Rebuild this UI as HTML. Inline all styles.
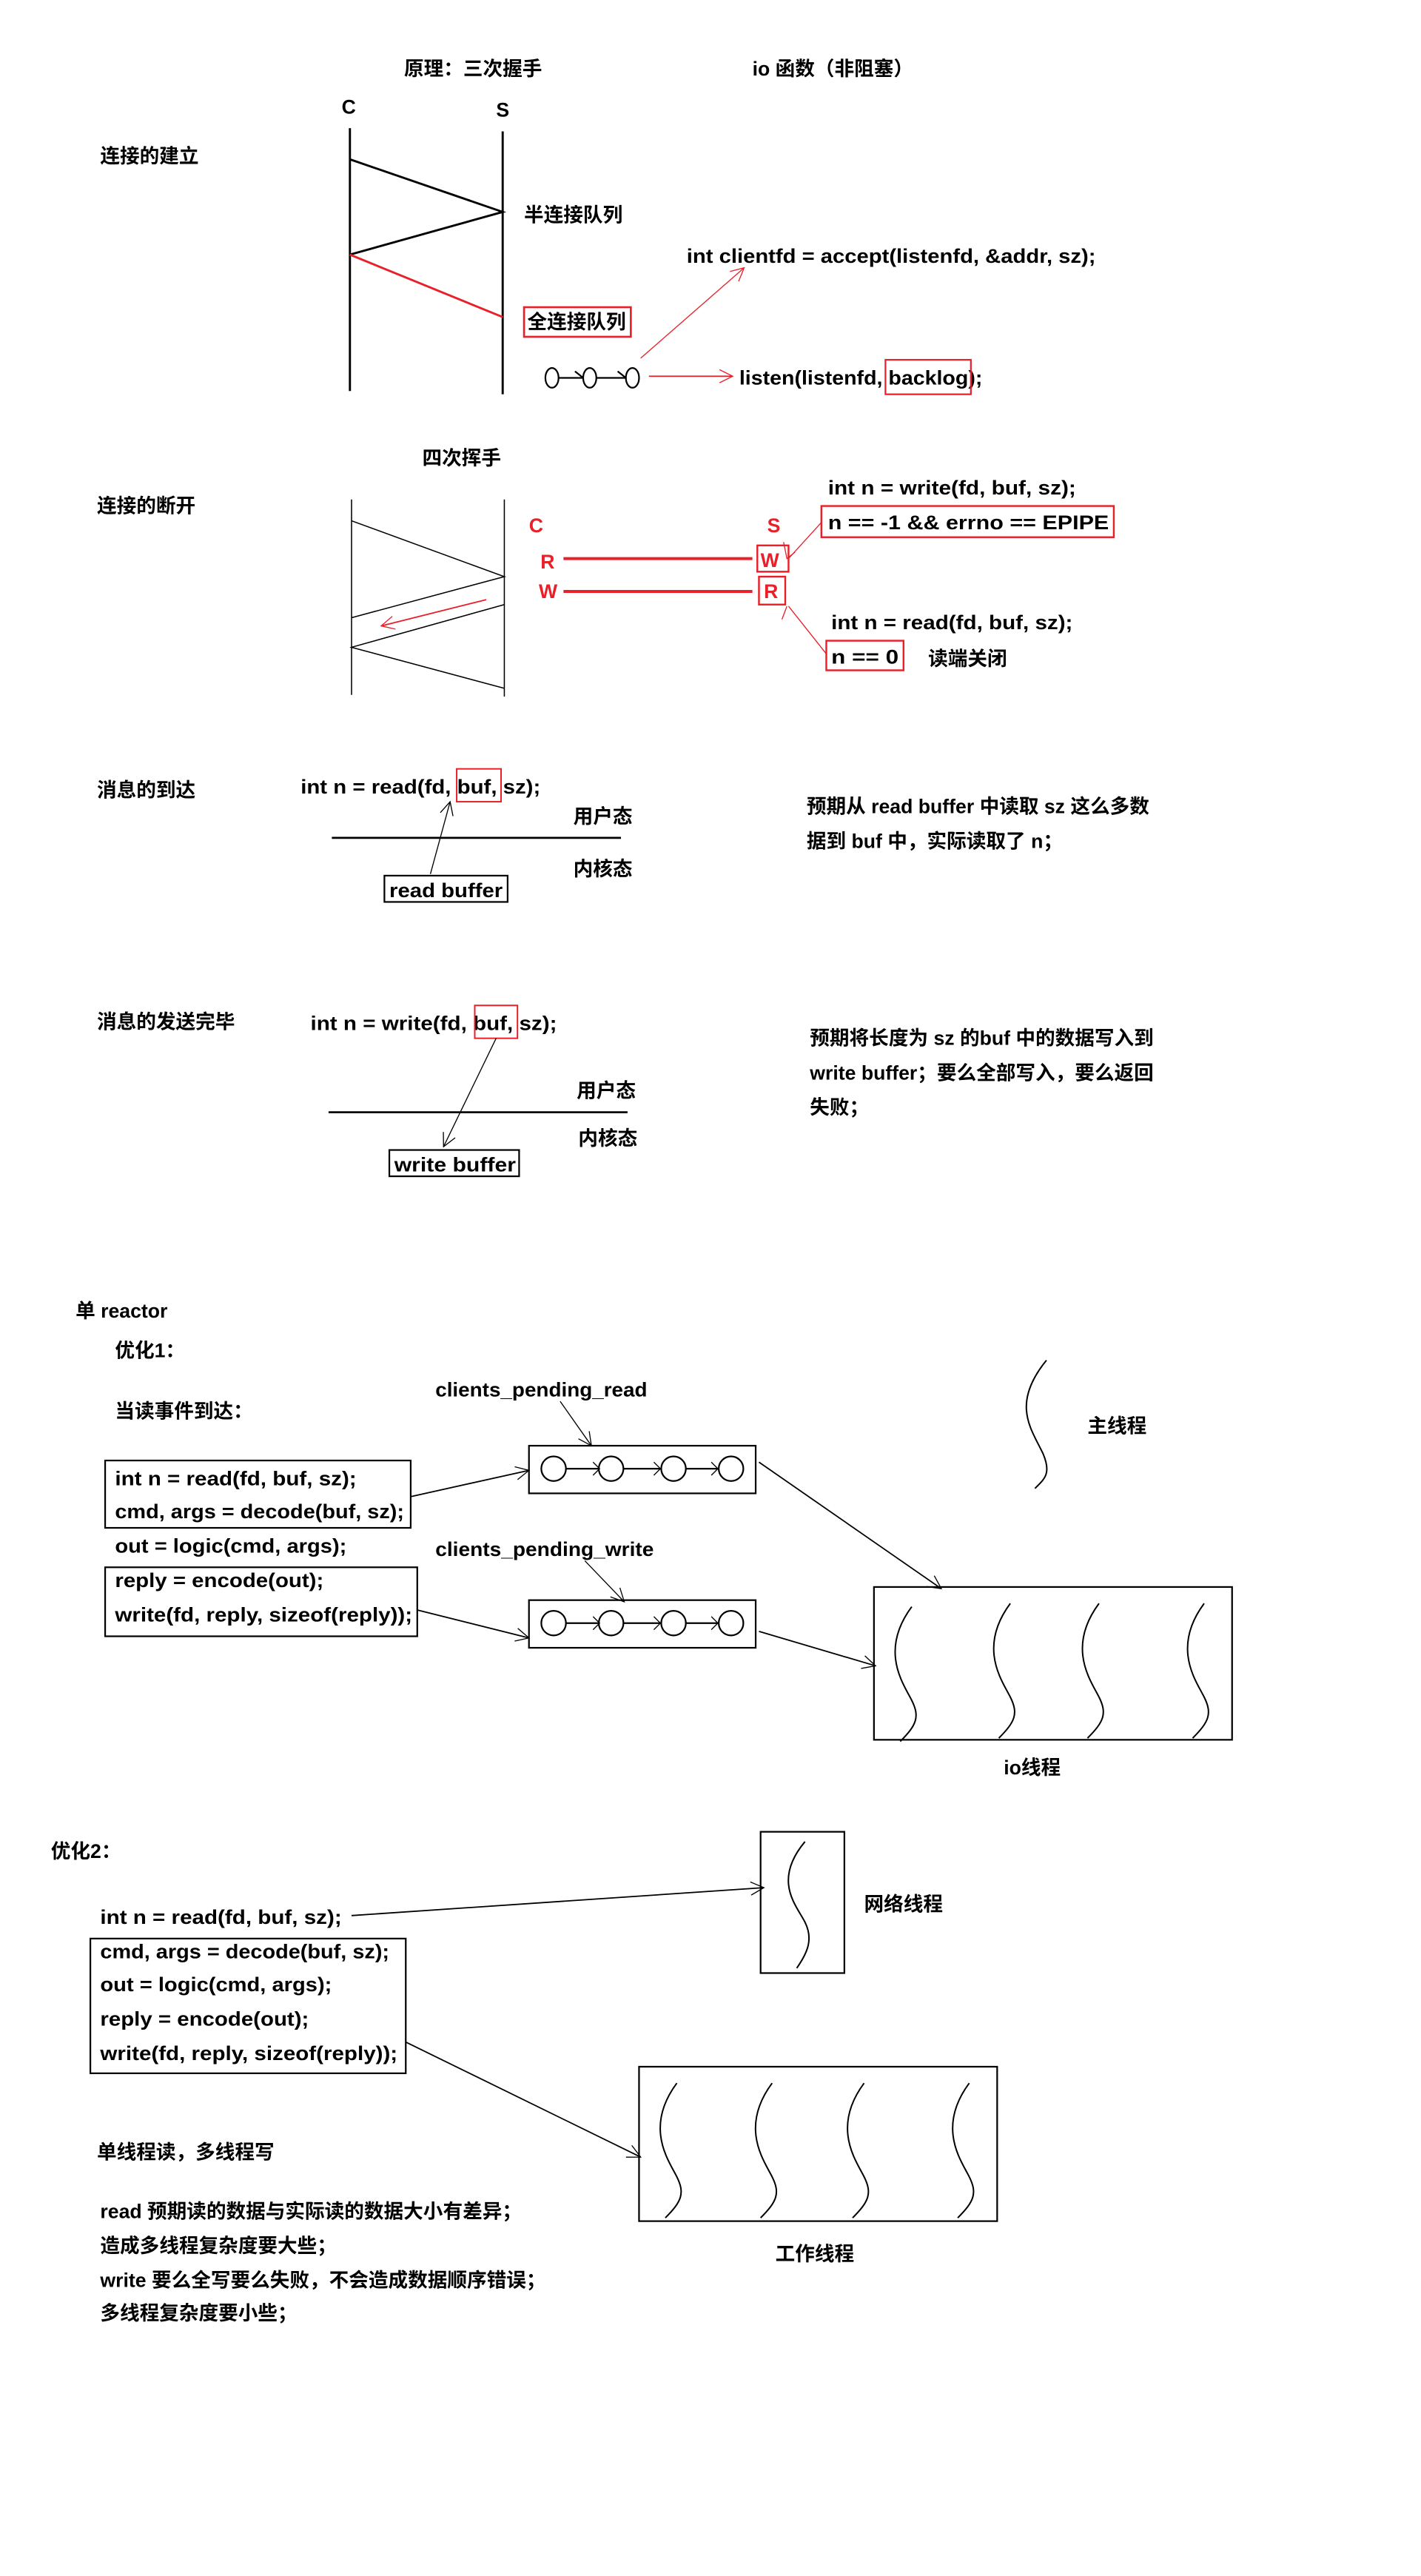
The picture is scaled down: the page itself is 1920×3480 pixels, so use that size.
<!DOCTYPE html>
<html><head><meta charset="utf-8"><style>
html,body{margin:0;padding:0;background:#fff;}
svg{display:block;}
text{font-family:"Liberation Sans","Noto Sans CJK SC",sans-serif;font-weight:bold;font-size:12px;fill:#000;dominant-baseline:central;}
.r{fill:#e8202a;}
</style></head><body>
<svg width="1920" height="3480" viewBox="0 0 865 1568" preserveAspectRatio="none" xmlns="http://www.w3.org/2000/svg">
<defs>
<marker id="ab" markerWidth="10" markerHeight="10" refX="9" refY="5" orient="auto" markerUnits="userSpaceOnUse"><path d="M1,1 L9,5 L1,9" fill="none" stroke="#000" stroke-width="0.6"/></marker>
<marker id="ar" markerWidth="10" markerHeight="10" refX="9" refY="5" orient="auto" markerUnits="userSpaceOnUse"><path d="M1,1 L9,5 L1,9" fill="none" stroke="#e8202a" stroke-width="0.6"/></marker>
</defs>
<rect width="865" height="1568" fill="#fff"/>

<text x="246" y="42">原理：三次握手</text>
<text x="458" y="42">io 函数（非阻塞）</text>
<text x="208" y="65">C</text>
<text x="302" y="67">S</text>
<text x="61" y="95">连接的建立</text>
<g stroke="#000" stroke-width="1.3" fill="none">
<line x1="213" y1="78" x2="213" y2="238"/>
<line x1="306" y1="80" x2="306" y2="240"/>
<polyline points="213,97 306,129 213,155"/>
</g>
<line x1="213" y1="155" x2="306" y2="193" stroke="#e8202a" stroke-width="1.3"/>
<text x="319" y="131">半连接队列</text>
<text x="418" y="156" textLength="249" lengthAdjust="spacingAndGlyphs">int clientfd = accept(listenfd, &amp;addr, sz);</text>
<rect x="319" y="187" width="65" height="18" fill="none" stroke="#e8202a" stroke-width="1.2"/>
<text x="321" y="196">全连接队列</text>
<line x1="390" y1="218" x2="453" y2="163" stroke="#e8202a" stroke-width="0.6" marker-end="url(#ar)"/>
<g stroke="#000" stroke-width="1" fill="none">
<ellipse cx="336" cy="230" rx="4" ry="6"/>
<ellipse cx="359" cy="230" rx="4" ry="6"/>
<ellipse cx="385" cy="230" rx="4" ry="6"/>
<line x1="340" y1="230" x2="355" y2="230"/>
<line x1="363" y1="230" x2="381" y2="230"/>
<polyline points="350,226 355,230"/><polyline points="376,226 381,230"/>
</g>
<line x1="395" y1="229" x2="446" y2="229" stroke="#e8202a" stroke-width="0.8" marker-end="url(#ar)"/>
<text x="450" y="230" textLength="148" lengthAdjust="spacingAndGlyphs">listen(listenfd, backlog);</text>
<rect x="539" y="219" width="52" height="21" fill="none" stroke="#e8202a" stroke-width="1"/>

<text x="257" y="279">四次挥手</text>
<text x="59" y="308">连接的断开</text>
<g stroke="#000" stroke-width="0.7" fill="none">
<line x1="214" y1="304" x2="214" y2="423"/>
<line x1="307" y1="304" x2="307" y2="424"/>
<polyline points="214,317 307,351 214,376"/>
<polyline points="307,368 214,394 307,419"/>
</g>
<line x1="296" y1="365" x2="232" y2="381" stroke="#e8202a" stroke-width="0.8" marker-end="url(#ar)"/>
<text class="r" x="322" y="320">C</text>
<text class="r" x="329" y="342">R</text>
<text class="r" x="328" y="360">W</text>
<text class="r" x="467" y="320">S</text>
<g stroke="#e8202a" stroke-width="1.8">
<line x1="343" y1="340" x2="458" y2="340"/>
<line x1="343" y1="360" x2="458" y2="360"/>
</g>
<g fill="none" stroke="#e8202a" stroke-width="1.1">
<rect x="461" y="332" width="19" height="16"/>
<rect x="462" y="351" width="16" height="17"/>
<rect x="500" y="308" width="178" height="19"/>
<rect x="503" y="390" width="47" height="18"/>
</g>
<text class="r" x="463" y="341">W</text>
<text class="r" x="465" y="360">R</text>
<line x1="500" y1="318" x2="480" y2="340" stroke="#e8202a" stroke-width="0.6"/>
<polyline points="477,330 479,340 484,336" fill="none" stroke="#e8202a" stroke-width="0.6"/>
<line x1="503" y1="398" x2="480" y2="369" stroke="#e8202a" stroke-width="0.6"/>
<polyline points="476,377 479,369" fill="none" stroke="#e8202a" stroke-width="0.6"/>
<text x="504" y="297" textLength="151" lengthAdjust="spacingAndGlyphs">int n = write(fd, buf, sz);</text>
<text x="504" y="318" textLength="171" lengthAdjust="spacingAndGlyphs">n == -1 &amp;&amp; errno == EPIPE</text>
<text x="506" y="379" textLength="147" lengthAdjust="spacingAndGlyphs">int n = read(fd, buf, sz);</text>
<text x="506" y="400" textLength="41" lengthAdjust="spacingAndGlyphs">n == 0</text>
<text x="565" y="401">读端关闭</text>

<text x="59" y="481">消息的到达</text>
<text x="183" y="479" textLength="146" lengthAdjust="spacingAndGlyphs">int n = read(fd, buf, sz);</text>
<rect x="278" y="468" width="27" height="20" fill="none" stroke="#e8202a" stroke-width="0.9"/>
<text x="349" y="497">用户态</text>
<line x1="202" y1="510" x2="378" y2="510" stroke="#000" stroke-width="1.2"/>
<text x="349" y="529">内核态</text>
<line x1="262" y1="532" x2="274" y2="488" stroke="#000" stroke-width="0.6" marker-end="url(#ab)"/>
<rect x="234" y="533" width="75" height="16" fill="none" stroke="#000" stroke-width="1"/>
<text x="237" y="542" textLength="69" lengthAdjust="spacingAndGlyphs">read buffer</text>
<text x="491" y="491">预期从 read buffer 中读取 sz 这么多数</text>
<text x="491" y="512">据到 buf 中，实际读取了 n；</text>

<text x="59" y="622">消息的发送完毕</text>
<text x="189" y="623" textLength="150" lengthAdjust="spacingAndGlyphs">int n = write(fd, buf, sz);</text>
<rect x="289" y="612" width="26" height="20" fill="none" stroke="#e8202a" stroke-width="0.9"/>
<text x="351" y="664">用户态</text>
<line x1="200" y1="677" x2="382" y2="677" stroke="#000" stroke-width="1.2"/>
<text x="352" y="693">内核态</text>
<line x1="302" y1="632" x2="270" y2="698" stroke="#000" stroke-width="0.6" marker-end="url(#ab)"/>
<rect x="237" y="700" width="79" height="16" fill="none" stroke="#000" stroke-width="1"/>
<text x="240" y="709" textLength="74" lengthAdjust="spacingAndGlyphs">write buffer</text>
<text x="493" y="632">预期将长度为 sz 的buf 中的数据写入到</text>
<text x="493" y="653">write buffer；要么全部写入，要么返回</text>
<text x="493" y="674">失败；</text>

<text x="46" y="798">单 reactor</text>
<text x="70" y="822">优化1：</text>
<text x="70" y="859">当读事件到达：</text>
<text x="265" y="846" textLength="129" lengthAdjust="spacingAndGlyphs">clients_pending_read</text>
<line x1="341" y1="853" x2="360" y2="880" stroke="#000" stroke-width="0.6" marker-end="url(#ab)"/>
<text x="265" y="943" textLength="133" lengthAdjust="spacingAndGlyphs">clients_pending_write</text>
<line x1="356" y1="950" x2="380" y2="975" stroke="#000" stroke-width="0.6" marker-end="url(#ab)"/>
<g stroke="#000" fill="none" stroke-width="1">
<rect x="322" y="880" width="138" height="29"/>
<rect x="322" y="974" width="138" height="29"/>
<circle cx="337" cy="894" r="7.5"/><circle cx="372" cy="894" r="7.5"/><circle cx="410" cy="894" r="7.5"/><circle cx="445" cy="894" r="7.5"/>
<circle cx="337" cy="988" r="7.5"/><circle cx="372" cy="988" r="7.5"/><circle cx="410" cy="988" r="7.5"/><circle cx="445" cy="988" r="7.5"/>
<line x1="344.5" y1="894" x2="364.5" y2="894"/><line x1="379.5" y1="894" x2="402.5" y2="894"/><line x1="417.5" y1="894" x2="437.5" y2="894"/>
<line x1="344.5" y1="988" x2="364.5" y2="988"/><line x1="379.5" y1="988" x2="402.5" y2="988"/><line x1="417.5" y1="988" x2="437.5" y2="988"/>
<rect x="64" y="889" width="186" height="41"/>
<rect x="64" y="954" width="190" height="42"/>
<rect x="532" y="966" width="218" height="93"/>
<rect x="463" y="1115" width="51" height="86"/>
<rect x="55" y="1180" width="192" height="82"/>
<rect x="389" y="1258" width="218" height="94"/>
</g>
<g stroke="#000" stroke-width="0.6" fill="none">
<polyline points="361,890 365,894 361,898"/><polyline points="398,890 402,894 398,898"/><polyline points="433,890 437,894 433,898"/>
<polyline points="361,984 365,988 361,992"/><polyline points="398,984 402,988 398,992"/><polyline points="433,984 437,988 433,992"/>
</g>
<text x="70" y="900" textLength="147" lengthAdjust="spacingAndGlyphs">int n = read(fd, buf, sz);</text>
<text x="70" y="920" textLength="176" lengthAdjust="spacingAndGlyphs">cmd, args = decode(buf, sz);</text>
<text x="70" y="941" textLength="141" lengthAdjust="spacingAndGlyphs">out = logic(cmd, args);</text>
<text x="70" y="962" textLength="127" lengthAdjust="spacingAndGlyphs">reply = encode(out);</text>
<text x="70" y="983" textLength="181" lengthAdjust="spacingAndGlyphs">write(fd, reply, sizeof(reply));</text>
<g stroke="#000" stroke-width="0.8" fill="none">
<line x1="250" y1="911" x2="322" y2="895" marker-end="url(#ab)"/>
<line x1="254" y1="980" x2="322" y2="997" marker-end="url(#ab)"/>
<line x1="462" y1="890" x2="573" y2="967" marker-end="url(#ab)"/>
<line x1="462" y1="993" x2="533" y2="1014" marker-end="url(#ab)"/>
<line x1="214" y1="1166" x2="465" y2="1149" marker-end="url(#ab)"/>
<line x1="247" y1="1243" x2="390" y2="1313" marker-end="url(#ab)"/>
</g>
<g stroke="#000" stroke-width="0.9" fill="none">
<path d="M637,828 C615,855 628,870 635,885 C640,897 636,900 630,906"/>
<path d="M555,978 C535,1005 550,1025 555,1035 C560,1045 558,1050 548,1060"/>
<path d="M615,976 C595,1003 610,1023 615,1033 C620,1043 618,1048 608,1058"/>
<path d="M669,976 C649,1003 664,1023 669,1033 C674,1043 672,1048 662,1058"/>
<path d="M733,976 C713,1003 728,1023 733,1033 C738,1043 736,1048 726,1058"/>
<path d="M490,1121 C470,1145 485,1160 490,1170 C495,1180 492,1188 485,1198"/>
<path d="M412,1268 C392,1295 407,1315 412,1325 C417,1335 415,1340 405,1350"/>
<path d="M470,1268 C450,1295 465,1315 470,1325 C475,1335 473,1340 463,1350"/>
<path d="M526,1268 C506,1295 521,1315 526,1325 C531,1335 529,1340 519,1350"/>
<path d="M590,1268 C570,1295 585,1315 590,1325 C595,1335 593,1340 583,1350"/>
</g>
<text x="662" y="868">主线程</text>
<text x="611" y="1076">io线程</text>
<text x="31" y="1127">优化2：</text>
<text x="526" y="1159">网络线程</text>
<text x="61" y="1167" textLength="147" lengthAdjust="spacingAndGlyphs">int n = read(fd, buf, sz);</text>
<text x="61" y="1188" textLength="176" lengthAdjust="spacingAndGlyphs">cmd, args = decode(buf, sz);</text>
<text x="61" y="1208" textLength="141" lengthAdjust="spacingAndGlyphs">out = logic(cmd, args);</text>
<text x="61" y="1229" textLength="127" lengthAdjust="spacingAndGlyphs">reply = encode(out);</text>
<text x="61" y="1250" textLength="181" lengthAdjust="spacingAndGlyphs">write(fd, reply, sizeof(reply));</text>
<text x="472" y="1372">工作线程</text>
<text x="59" y="1310">单线程读，多线程写</text>
<text x="61" y="1346">read 预期读的数据与实际读的数据大小有差异；</text>
<text x="61" y="1367">造成多线程复杂度要大些；</text>
<text x="61" y="1388">write 要么全写要么失败，不会造成数据顺序错误；</text>
<text x="61" y="1408">多线程复杂度要小些；</text>
</svg>
</body></html>
